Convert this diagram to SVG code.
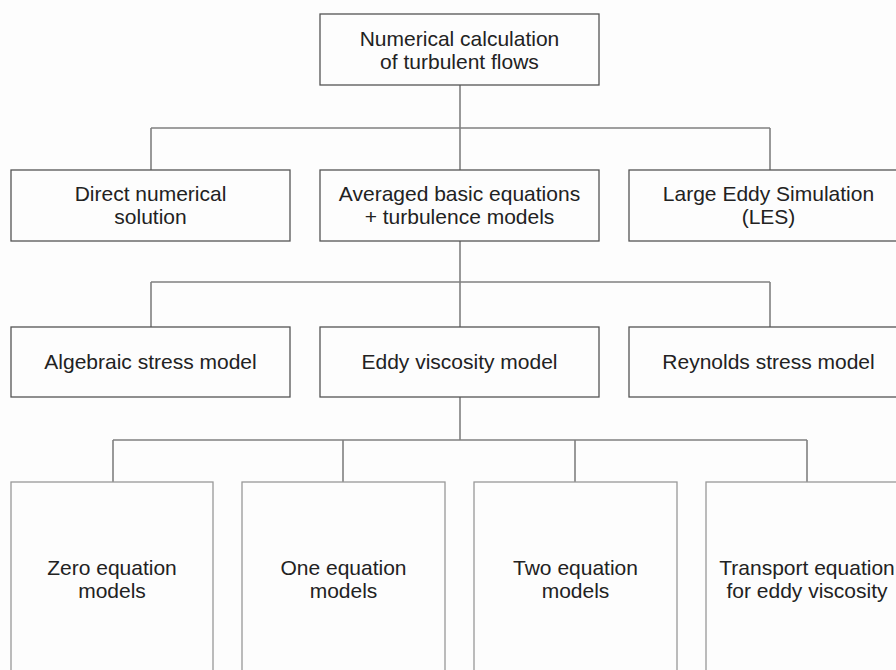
<svg xmlns="http://www.w3.org/2000/svg" width="896" height="670" viewBox="0 0 896 670">
<style>
.box{fill:#fdfdfd;stroke:#555;stroke-width:1.3}
.lbox{fill:#fdfdfd;stroke:#999;stroke-width:1.3}
.t{font-family:"Liberation Sans",Arial,sans-serif;font-size:21px;fill:#222;text-anchor:middle}
.c{fill:none;stroke:#808080;stroke-width:1.6}
</style>
<rect x="0" y="0" width="896" height="670" fill="#fdfdfd"/>
<g id="connectors">
<path class="c" d="M460 85V128M151 128H770M151 128V170M460 128V170M770 128V170"/>
<path class="c" d="M460 241V282M151 282H770M151 282V327M460 282V327M770 282V327"/>
<path class="c" d="M460 397V440M113 440H807M113 440V482M343 440V482M575 440V482M807 440V482"/>
</g>
<g id="root"><rect class="box" x="320" y="14" width="279" height="71"/><text class="t" x="459.5" y="45.5">Numerical calculation</text><text class="t" x="459.5" y="68.5">of turbulent flows</text></g>
<g id="dns"><rect class="box" x="11" y="170" width="279" height="71"/><text class="t" x="150.5" y="201">Direct numerical</text><text class="t" x="150.5" y="224">solution</text></g>
<g id="avg"><rect class="box" x="320" y="170" width="279" height="71"/><text class="t" x="459.5" y="201">Averaged basic equations</text><text class="t" x="459.5" y="224">+ turbulence models</text></g>
<g id="les"><rect class="box" x="629" y="170" width="279" height="71"/><text class="t" x="768.5" y="201">Large Eddy Simulation</text><text class="t" x="768.5" y="224">(LES)</text></g>
<g id="asm"><rect class="box" x="11" y="327" width="279" height="70"/><text class="t" x="150.5" y="369">Algebraic stress model</text></g>
<g id="evm"><rect class="box" x="320" y="327" width="279" height="70"/><text class="t" x="459.5" y="369">Eddy viscosity model</text></g>
<g id="rsm"><rect class="box" x="629" y="327" width="279" height="70"/><text class="t" x="768.5" y="369">Reynolds stress model</text></g>
<g id="zero"><rect class="lbox" x="11" y="482" width="202" height="200"/><text class="t" x="112" y="575">Zero equation</text><text class="t" x="112" y="598">models</text></g>
<g id="one"><rect class="lbox" x="242" y="482" width="203" height="200"/><text class="t" x="343.5" y="575">One equation</text><text class="t" x="343.5" y="598">models</text></g>
<g id="two"><rect class="lbox" x="474" y="482" width="203" height="200"/><text class="t" x="575.5" y="575">Two equation</text><text class="t" x="575.5" y="598">models</text></g>
<g id="transport"><rect class="lbox" x="706" y="482" width="202" height="200"/><text class="t" x="807" y="575">Transport equation</text><text class="t" x="807" y="598">for eddy viscosity</text></g>
</svg>
